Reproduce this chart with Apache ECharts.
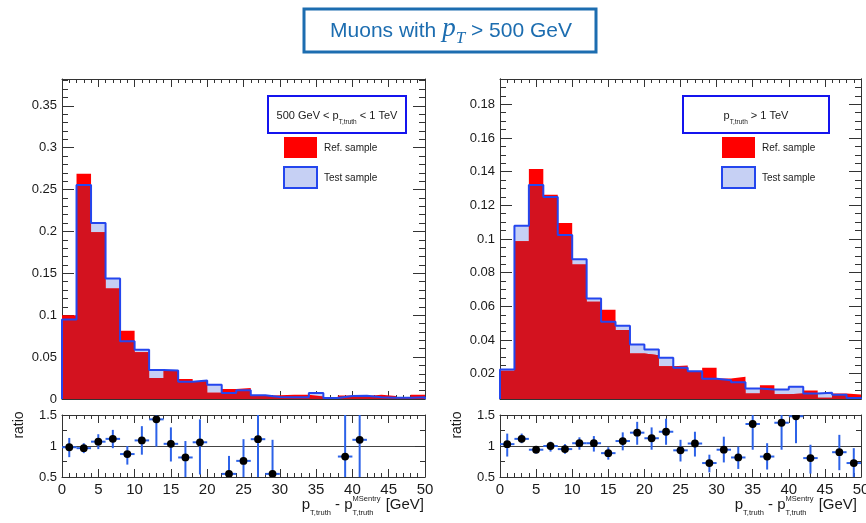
<!DOCTYPE html>
<html>
<head>
<meta charset="utf-8">
<script src="https://cdn.jsdelivr.net/npm/echarts@6/dist/echarts.min.js"></script>
<style>
  html, body { margin: 0; padding: 0; background: #fff; }
  #chart { width: 866px; height: 523px; }
</style>
</head>
<body>
<div id="chart"></div>
<script>
// Bin edges in GeV (25 bins of 2 GeV), shared by both panels
const binEdges = [0, 2, 4, 6, 8, 10, 12, 14, 16, 18, 20, 22, 24, 26, 28, 30, 32, 34, 36, 38, 40, 42, 44, 46, 48, 50];

// 500 GeV < pT,truth < 1 TeV : normalised distributions
const refLow  = [0.100, 0.269, 0.199, 0.132, 0.0816, 0.0557, 0.025, 0.0335, 0.024, 0.0215, 0.0075, 0.012, 0.013, 0.004, 0.0045,
                 0.005, 0.005, 0.003, 0.0005, 0.0042, 0.0035, 0.005, 0.0035, 0.001, 0.005];
const testLow = [0.095, 0.2555, 0.210, 0.1437, 0.069, 0.0589, 0.0345, 0.034, 0.0205, 0.022, 0.017, 0.0072, 0.0103, 0.0044, 0.0025,
                 0.002, 0.002, 0.0072, 0.0012, 0.0035, 0.0039, 0.002, 0.0015, 0.0016, 0.002];
// test / ref ratio with error-bar ends (null where the ratio lies outside 0.5-1.5)
const ratioLow   = [0.98, 0.965, 1.07, 1.115, 0.87, 1.09, 1.43, 1.035, 0.815, 1.06, null, 0.55, 0.76, 1.11, 0.55,
                    null, null, null, null, 0.83, 1.1, null, null, null, null];
const ratioLowLo = [0.82, 0.885, 0.95, 0.965, 0.70, 0.86, 0.99, 0.75, 0.45, 0.54, null, 0.30, 0.40, 0.30, 0.20,
                    null, null, null, null, 0.20, 0.20, null, null, null, null];
const ratioLowHi = [1.13, 1.045, 1.19, 1.26, 1.0, 1.32, 1.60, 1.30, 1.08, 1.43, null, 0.84, 1.11, 1.70, 1.10,
                    null, null, null, null, 1.70, 1.80, null, null, null, null];

// pT,truth > 1 TeV : normalised distributions
const refHigh  = [0.0218, 0.0986, 0.1415, 0.1263, 0.1095, 0.0848, 0.0627, 0.058, 0.046, 0.032, 0.031, 0.0245, 0.0249, 0.0212, 0.0236,
                  0.0172, 0.0182, 0.0083, 0.0131, 0.0078, 0.0083, 0.0101, 0.0057, 0.0083, 0.0077];
const testHigh = [0.0225, 0.1079, 0.132, 0.1249, 0.1024, 0.088, 0.0646, 0.0508, 0.0485, 0.0374, 0.0344, 0.0295, 0.0236, 0.0215, 0.017,
                  0.0162, 0.0150, 0.0112, 0.0107, 0.0107, 0.0123, 0.0083, 0.0087, 0.0075, 0.0056];
const ratioHigh   = [1.03, 1.115, 0.94, 1.0, 0.95, 1.045, 1.045, 0.885, 1.08, 1.215, 1.125, 1.23, 0.93, 1.04, 0.725,
                     0.94, 0.815, 1.355, 0.83, 1.375, 1.48, 0.805, null, 0.9, 0.725];
const ratioHighLo = [0.83, 1.045, 0.875, 0.91, 0.875, 0.94, 0.91, 0.78, 0.93, 1.02, 0.94, 1.02, 0.75, 0.83, 0.575,
                     0.735, 0.63, 0.94, 0.62, 0.94, 1.045, 0.555, null, 0.61, 0.45];
const ratioHighHi = [1.2, 1.2, 1.0, 1.07, 1.03, 1.14, 1.16, 0.98, 1.22, 1.39, 1.3, 1.44, 1.1, 1.23, 0.86,
                     1.15, 0.99, 1.6, 1.045, 1.6, 1.7, 1.02, null, 1.18, 0.965];

// Axis ranges and tick labels
const yMaxLow = 0.382;
const yMinHigh = 0.005, yMaxHigh = 0.195;
const yTicksHigh = [0.02, 0.04, 0.06, 0.08, 0.1, 0.12, 0.14, 0.16, 0.18];
const yMinorHigh = [0.01, 0.015, 0.025, 0.03, 0.035, 0.045, 0.05, 0.055, 0.065, 0.07, 0.075, 0.085, 0.09, 0.095,
                    0.105, 0.11, 0.115, 0.125, 0.13, 0.135, 0.145, 0.15, 0.155, 0.165, 0.17, 0.175, 0.185, 0.19];

const SANS = 'Liberation Sans', SERIF = 'Liberation Serif';
const FRAME = '#333', LABEL = '#1a1a1a';
const RED = '#ff0000', DARK = '#d3121f', LIGHT = '#c6d0f4', BLUE = '#2446ee', ERR = '#2c62e8';
const LEGBOX = '#1414ee', TITLE = '#1c6db0';

// ---------- axes ----------
function xAxisPair(grid, labeled) {
  const base = {
    gridIndex: grid, type: 'value', min: binEdges[0], max: binEdges[binEdges.length - 1], interval: 5,
    axisLine: { show: true, onZero: false, lineStyle: { color: FRAME, width: 1 } },
    axisTick: { show: true, inside: true, length: 8, lineStyle: { color: FRAME } },
    minorTick: { show: true, splitNumber: 5, length: 4, lineStyle: { color: FRAME } },
    splitLine: { show: false }
  };
  return [
    Object.assign({}, base, { position: 'bottom',
      axisLabel: { show: labeled, color: LABEL, fontFamily: SANS, fontSize: 15, margin: 5 } }),
    Object.assign({}, base, { position: 'top', axisLabel: { show: false } })
  ];
}
function yAxisPair(grid, min, max, interval, minorSplit, majorLen, unityLine) {
  const base = {
    gridIndex: grid, type: 'value', min, max, interval,
    axisLine: { show: true, onZero: false, lineStyle: { color: FRAME, width: 1 } },
    axisTick: { show: true, inside: true, length: majorLen, lineStyle: { color: FRAME } },
    minorTick: { show: true, splitNumber: minorSplit, length: majorLen / 2, lineStyle: { color: FRAME } },
    splitLine: { show: false }
  };
  return [
    Object.assign({}, base, { position: 'left',
      splitLine: { show: !!unityLine, lineStyle: { color: '#444', width: 1 } },
      axisLabel: { show: true, color: LABEL, fontFamily: SANS, fontSize: 13, margin: 5, showMaxLabel: max % interval === 0 } }),
    Object.assign({}, base, { position: 'right', axisLabel: { show: false } })
  ];
}
// right-hand upper panel: the frame starts at 0.005, so ticks are listed explicitly
function yAxesHigh(grid) {
  const mk = (pos, values, len, labeled) => ({
    gridIndex: grid, type: 'value', min: yMinHigh, max: yMaxHigh, position: pos,
    axisLine: { show: true, onZero: false, lineStyle: { color: FRAME, width: 1 } },
    axisTick: { show: true, inside: true, length: len, customValues: values, lineStyle: { color: FRAME } },
    minorTick: { show: false }, splitLine: { show: false },
    axisLabel: labeled ? { show: true, customValues: values, color: LABEL, fontFamily: SANS, fontSize: 13, margin: 5 }
                       : { show: false }
  });
  return [mk('left', yTicksHigh, 12, true), mk('right', yTicksHigh, 12, false),
          mk('left', yMinorHigh, 6, false), mk('right', yMinorHigh, 6, false)];
}

const xAxis = [].concat(xAxisPair(0, false), xAxisPair(1, true), xAxisPair(2, false), xAxisPair(3, true));
const yAxis = [].concat(
  yAxisPair(0, 0, yMaxLow, 0.05, 5, 12, false),   // 0,1
  yAxisPair(1, 0.5, 1.5, 0.5, 2, 10, true),       // 2,3
  yAxesHigh(2),                                   // 4,5,6,7
  yAxisPair(3, 0.5, 1.5, 0.5, 2, 10, true)        // 8,9
);

// ---------- series ----------
function stepPoints(vals) {
  const pts = vals.map((v, i) => [binEdges[i], v]);
  pts.push([binEdges[vals.length], vals[vals.length - 1]]);
  return pts;
}
function histLayers(xi, yi, ref, test, yMin) {
  const overlap = ref.map((v, i) => Math.min(v, test[i]));
  const fill = (vals, color) => ({
    type: 'line', xAxisIndex: xi, yAxisIndex: yi, data: stepPoints(vals), step: 'end',
    symbol: 'none', silent: true, lineStyle: { opacity: 0, width: 0 },
    areaStyle: { color, opacity: 1, origin: 'start' }
  });
  const outline = [[binEdges[0], yMin]].concat(stepPoints(test), [[binEdges[binEdges.length - 1], yMin]]);
  return [
    fill(test, LIGHT), fill(ref, RED), fill(overlap, DARK),
    { type: 'line', xAxisIndex: xi, yAxisIndex: yi, data: outline, step: 'end', symbol: 'none', silent: true,
      lineStyle: { color: BLUE, width: 2 } }
  ];
}
function ratioSeries(xi, yi, vals, lo, hi) {
  const data = [];
  vals.forEach((v, i) => {
    if (v !== null) data.push([(binEdges[i] + binEdges[i + 1]) / 2, v, lo[i], hi[i], binEdges[i], binEdges[i + 1]]);
  });
  return {
    type: 'custom', xAxisIndex: xi, yAxisIndex: yi, clip: true, silent: true, data,
    encode: { x: 0, y: 1 },
    renderItem: (params, api) => {
      const c = api.coord([api.value(0), api.value(1)]);
      const l = api.coord([api.value(4), api.value(1)]);
      const r = api.coord([api.value(5), api.value(1)]);
      const pl = api.coord([api.value(0), api.value(2)]);
      const ph = api.coord([api.value(0), api.value(3)]);
      return { type: 'group', children: [
        { type: 'line', shape: { x1: l[0], y1: c[1], x2: r[0], y2: c[1] }, style: { stroke: ERR, lineWidth: 2 } },
        { type: 'line', shape: { x1: c[0], y1: pl[1], x2: c[0], y2: ph[1] }, style: { stroke: ERR, lineWidth: 2 } },
        { type: 'circle', shape: { cx: c[0], cy: c[1], r: 3.9 }, style: { fill: '#000' } }
      ] };
    }
  };
}

const series = [].concat(
  histLayers(0, 0, refLow, testLow, 0),
  [ratioSeries(2, 2, ratioLow, ratioLowLo, ratioLowHi)],
  histLayers(4, 4, refHigh, testHigh, yMinHigh),
  [ratioSeries(6, 8, ratioHigh, ratioHighLo, ratioHighHi)]
);

// ---------- text with sub/superscripts ----------
const mctx = document.createElement('canvas').getContext('2d');
function measure(t, size, fam, italic) {
  mctx.font = (italic ? 'italic ' : '') + size + 'px "' + fam + '"';
  return mctx.measureText(t).width;
}
function textRuns(runs, x, baseline, align, color) {
  const widths = runs.map(r => r.adv !== undefined ? r.adv : measure(r.t, r.size, r.fam || SANS, r.italic));
  const total = widths.reduce((a, b) => a + b, 0);
  let cx = align === 'center' ? x - total / 2 : align === 'right' ? x - total : x;
  const out = [];
  runs.forEach((r, i) => {
    out.push({ type: 'text', silent: true, x: cx, y: baseline + (r.dy || 0) - 0.345 * r.size,
      style: { text: r.t, fontSize: r.size, fontFamily: r.fam || SANS, fontStyle: r.italic ? 'italic' : 'normal',
               fill: color, align: 'left', verticalAlign: 'middle' } });
    cx += widths[i];
  });
  return out;
}
function xTitle(xRight) {
  const wSup = measure('MSentry', 7.5, SANS), wSub = measure('T,truth', 7.5, SANS);
  return textRuns([
    { t: 'p', size: 15 }, { t: 'T,truth', size: 7.5, dy: 6 }, { t: ' - ', size: 15 }, { t: 'p', size: 15 },
    { t: 'MSentry', size: 7.5, dy: -8, adv: 0 }, { t: 'T,truth', size: 7.5, dy: 6, adv: Math.max(wSup, wSub) + 1 },
    { t: ' [GeV]', size: 15 }
  ], xRight, 510, 'right', LABEL);
}
function legend(boxX, boxW, swX, header) {
  const els = [
    { type: 'rect', silent: true, shape: { x: boxX, y: 96, width: boxW, height: 37 },
      style: { fill: '#fff', stroke: LEGBOX, lineWidth: 2 } },
    { type: 'rect', silent: true, shape: { x: swX, y: 137, width: 33, height: 21 }, style: { fill: RED } },
    { type: 'rect', silent: true, shape: { x: swX, y: 167, width: 33, height: 21 },
      style: { fill: LIGHT, stroke: BLUE, lineWidth: 2 } }
  ];
  return els.concat(
    textRuns(header, boxX + boxW / 2, 120, 'center', LABEL),
    textRuns([{ t: 'Ref. sample', size: 10 }], swX + 40, 151.5, 'left', LABEL),
    textRuns([{ t: 'Test sample', size: 10 }], swX + 40, 181.5, 'left', LABEL)
  );
}
function ratioLabel(x) {
  return { type: 'text', silent: true, x, y: 425, rotation: Math.PI / 2,
    style: { text: 'ratio', fontSize: 14, fontFamily: SANS, fill: LABEL, align: 'center', verticalAlign: 'middle' } };
}

const graphics = [].concat(
  [{ type: 'rect', silent: true, shape: { x: 304, y: 9, width: 292, height: 43 },
     style: { fill: 'none', stroke: TITLE, lineWidth: 3 } }],
  textRuns([
    { t: 'Muons with ', size: 21 },
    { t: 'p', size: 27, fam: SERIF, italic: true },
    { t: 'T', size: 17, fam: SERIF, italic: true, dy: 6 },
    { t: ' > 500 GeV', size: 21 }
  ], 451, 38, 'center', TITLE),
  legend(268, 138, 284, [{ t: '500 GeV < p', size: 11 }, { t: 'T,truth', size: 6.5, dy: 4 }, { t: ' < 1 TeV', size: 11 }]),
  legend(683, 146, 722, [{ t: 'p', size: 11 }, { t: 'T,truth', size: 6.5, dy: 4 }, { t: ' > 1 TeV', size: 11 }]),
  xTitle(424), xTitle(857),
  [ratioLabel(19), ratioLabel(457)]
);

const chart = echarts.init(document.getElementById('chart'), null, { renderer: 'canvas' });
chart.setOption({
  animation: false,
  backgroundColor: '#fff',
  grid: [
    { left: 62, top: 79, width: 363, height: 320, outerBoundsMode: 'none' },
    { left: 62, top: 415, width: 363, height: 62, outerBoundsMode: 'none' },
    { left: 500, top: 79, width: 361, height: 320, outerBoundsMode: 'none' },
    { left: 500, top: 415, width: 361, height: 62, outerBoundsMode: 'none' }
  ],
  xAxis, yAxis, series,
  graphic: { elements: graphics }
});
</script>
</body>
</html>
